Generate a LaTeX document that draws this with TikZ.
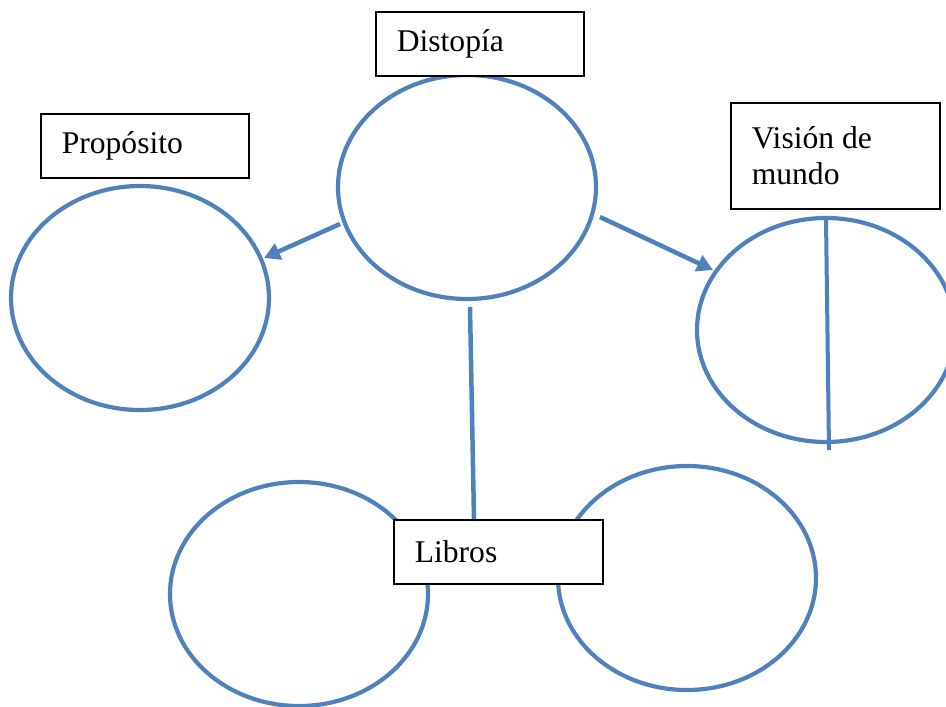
\documentclass[tikz,border=0pt]{standalone}
\usepackage{fontspec}
\setmainfont{Liberation Serif}
\usetikzlibrary{shapes.geometric,arrows.meta}
\definecolor{oblue}{HTML}{4F81BD}
\begin{document}
\begin{tikzpicture}[x=1pt,y=-1pt,
  bubble/.style={draw=oblue,line width=4.2pt,ellipse,inner sep=0pt,minimum width=258pt,minimum height=224pt},
  labelbox/.style={draw=black,line width=1.6pt,fill=white,anchor=north west,inner xsep=21pt,inner ysep=0pt,align=flush left,font=\fontsize{31.6}{36}\selectfont},
  link/.style={draw=oblue,line width=4.5pt},
  arrowlink/.style={link,-{Triangle[length=16pt,width=17pt]}}]
\useasboundingbox (0,0) rectangle (946,707);
% ellipses
\node[bubble] (center) at (467,187) {};
\node[bubble] (left) at (140,298) {};
\node[bubble] (right) at (826,330) {};
\node[bubble] (botleft) at (299,594) {};
\node[bubble] (botright) at (687,578) {};
% connectors
\coordinate (a1s) at (340,224);
\coordinate (a1e) at (264,258);
\coordinate (a2s) at (600,217);
\coordinate (a2e) at (713,270);
\coordinate (vtop) at (826,218);
\coordinate (vbot) at (829,450);
\coordinate (ctop) at (470,307);
\draw[arrowlink] (a1s) -- (a1e);
\draw[arrowlink] (a2s) -- (a2e);
\draw[link,line width=4pt] (vtop) -- (vbot);
% label boxes
\node[labelbox,text width=166pt,minimum height=64pt] (distopia) at (375,11) {Distopía};
\node[labelbox,text width=166pt,minimum height=64pt] (proposito) at (40,113) {Propósito};
\node[labelbox,text width=167pt,minimum height=106pt] (vision) at (730,102) {Visión de\\mundo};
\node[labelbox,text width=167pt,minimum height=64pt] (libros) at (393,519) {Libros};
\draw[link] (ctop) -- (libros.north -| 474,0);
\end{tikzpicture}
\end{document}
